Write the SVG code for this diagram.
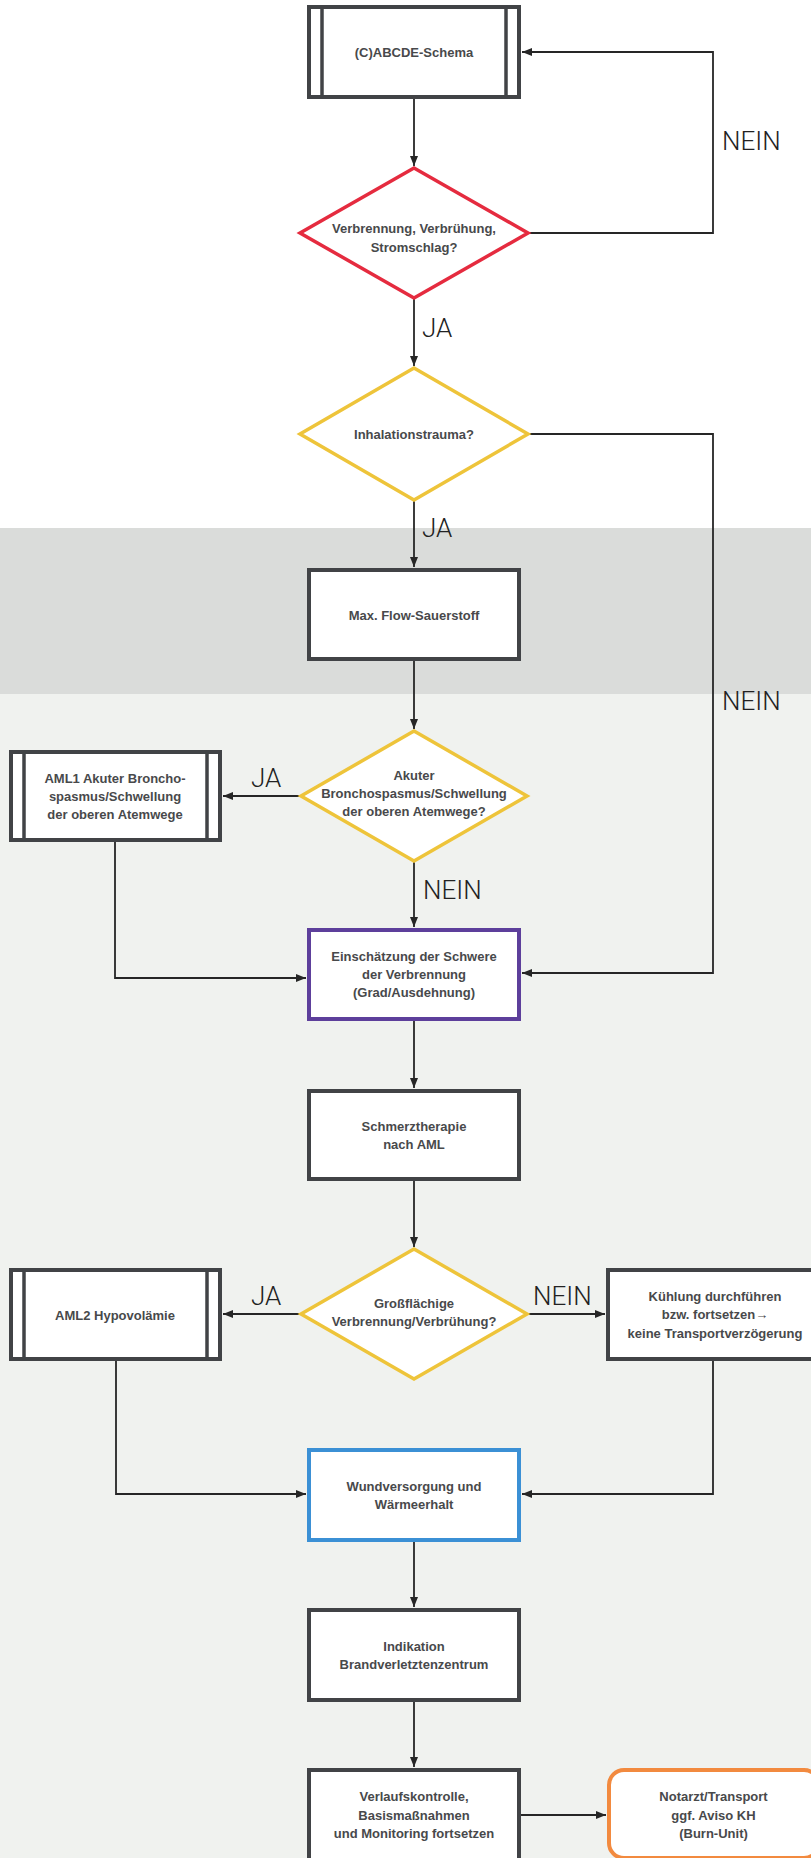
<svg xmlns="http://www.w3.org/2000/svg" width="811" height="1858" viewBox="0 0 811 1858">
<defs>
<marker id="arr" viewBox="0 0 10 8" refX="10" refY="4" markerWidth="10" markerHeight="8" markerUnits="userSpaceOnUse" orient="auto">
<path d="M0,0 L10,4 L0,8 Z" fill="#262626"/>
</marker>
<style>
.bg{stroke:none}
.box{fill:#fff;stroke:#414346;stroke-width:4}
.inner{stroke:#414346;stroke-width:3.5}
.red{fill:#fff;stroke:#e52b3f;stroke-width:3.5}
.yel{fill:#fff;stroke:#eec43a;stroke-width:3.5}
.pur{fill:#fff;stroke:#5d3f9b;stroke-width:4}
.blu{fill:#fff;stroke:#3b90d5;stroke-width:4}
.ora{fill:#fff;stroke:#f28a3f;stroke-width:4}
.t{font-family:"Liberation Sans",Arial,sans-serif;font-weight:bold;font-size:13px;fill:#48494b;text-anchor:middle}
.lab{font-family:Roboto,"Liberation Sans",sans-serif;font-weight:300;font-size:26px;fill:#222}
.c{fill:none;stroke:#262626;stroke-width:1.8;marker-end:url(#arr)}
</style>
</defs>
<rect class="bg" x="0" y="0" width="811" height="528" fill="#ffffff"/>
<rect class="bg" x="0" y="528" width="811" height="166" fill="#dadcda"/>
<rect class="bg" x="0" y="694" width="811" height="1164" fill="#f0f2ef"/>

<g id="connectors">
<path class="c" d="M414,99 V166"/>
<path class="c" d="M528,233 H713 V52 H522"/>
<path class="c" d="M414,298 V366"/>
<path class="c" d="M528,434 H713 V973 H522"/>
<path class="c" d="M414,500 V567"/>
<path class="c" d="M414,661 V729"/>
<path class="c" d="M301,796 H223"/>
<path class="c" d="M115,842 V978 H306"/>
<path class="c" d="M414,861 V927"/>
<path class="c" d="M414,1021 V1088"/>
<path class="c" d="M414,1181 V1247"/>
<path class="c" d="M301,1314 H223"/>
<path class="c" d="M528,1314 H605"/>
<path class="c" d="M116,1361 V1494 H306"/>
<path class="c" d="M713,1361 V1494 H522"/>
<path class="c" d="M414,1542 V1607"/>
<path class="c" d="M414,1702 V1767"/>
<path class="c" d="M521,1815 H606"/>
<text class="lab" x="722" y="150">NEIN</text>
<text class="lab" x="422" y="337">JA</text>
<text class="lab" x="722" y="710">NEIN</text>
<text class="lab" x="422" y="537">JA</text>
<text class="lab" x="251" y="787">JA</text>
<text class="lab" x="423" y="899">NEIN</text>
<text class="lab" x="251" y="1305">JA</text>
<text class="lab" x="533" y="1305">NEIN</text>
</g>

<g id="n-abcde">
<rect class="box" x="309" y="7" width="210" height="90"/>
<line class="inner" x1="322" y1="7" x2="322" y2="97"/>
<line class="inner" x1="506" y1="7" x2="506" y2="97"/>
<text class="t" x="414" y="56.5">(C)ABCDE-Schema</text>
</g>

<g id="n-verbrennung">
<polygon class="red" points="414,168 528,233 414,298 300,233"/>
<text class="t" x="414" y="232.5">Verbrennung, Verbrühung,</text>
<text class="t" x="414" y="251.5">Stromschlag?</text>
</g>

<g id="n-inhalation">
<polygon class="yel" points="414,368 528,434 414,500 300,434"/>
<text class="t" x="414" y="438.5">Inhalationstrauma?</text>
</g>

<g id="n-sauerstoff">
<rect class="box" x="309" y="570" width="210" height="89"/>
<text class="t" x="414" y="619.5">Max. Flow-Sauerstoff</text>
</g>

<g id="n-bronchospasmus">
<polygon class="yel" points="414,731 527,796 414,861 301,796"/>
<text class="t" x="414" y="779.5">Akuter</text>
<text class="t" x="414" y="797.5">Bronchospasmus/Schwellung</text>
<text class="t" x="414" y="815.5">der oberen Atemwege?</text>
</g>

<g id="n-aml1">
<rect class="box" x="11" y="752" width="209" height="88"/>
<line class="inner" x1="24" y1="752" x2="24" y2="840"/>
<line class="inner" x1="207" y1="752" x2="207" y2="840"/>
<text class="t" x="115" y="782.5">AML1 Akuter Broncho-</text>
<text class="t" x="115" y="801">spasmus/Schwellung</text>
<text class="t" x="115" y="818.5">der oberen Atemwege</text>
</g>

<g id="n-einschaetzung">
<rect class="pur" x="309" y="930" width="210" height="89"/>
<text class="t" x="414" y="960.5">Einschätzung der Schwere</text>
<text class="t" x="414" y="978.5">der Verbrennung</text>
<text class="t" x="414" y="996.5">(Grad/Ausdehnung)</text>
</g>

<g id="n-schmerz">
<rect class="box" x="309" y="1091" width="210" height="88"/>
<text class="t" x="414" y="1130.5">Schmerztherapie</text>
<text class="t" x="414" y="1148.5">nach AML</text>
</g>

<g id="n-grossflaechig">
<polygon class="yel" points="414,1249 527,1314 414,1379 301,1314"/>
<text class="t" x="414" y="1307.5">Großflächige</text>
<text class="t" x="414" y="1325.5">Verbrennung/Verbrühung?</text>
</g>

<g id="n-aml2">
<rect class="box" x="11" y="1270" width="209" height="89"/>
<line class="inner" x1="24" y1="1270" x2="24" y2="1359"/>
<line class="inner" x1="207" y1="1270" x2="207" y2="1359"/>
<text class="t" x="115" y="1320">AML2 Hypovolämie</text>
</g>

<g id="n-kuehlung">
<rect class="box" x="608" y="1270" width="214" height="89"/>
<text class="t" x="715" y="1300.5">Kühlung durchführen</text>
<text class="t" x="715" y="1319">bzw. fortsetzen→</text>
<text class="t" x="715" y="1337.5">keine Transportverzögerung</text>
</g>

<g id="n-wund">
<rect class="blu" x="309" y="1450" width="210" height="90"/>
<text class="t" x="414" y="1490.5">Wundversorgung und</text>
<text class="t" x="414" y="1508.5">Wärmeerhalt</text>
</g>

<g id="n-indikation">
<rect class="box" x="309" y="1610" width="210" height="90"/>
<text class="t" x="414" y="1650.5">Indikation</text>
<text class="t" x="414" y="1668.5">Brandverletztenzentrum</text>
</g>

<g id="n-verlauf">
<rect class="box" x="309" y="1770" width="210" height="90"/>
<text class="t" x="414" y="1801">Verlaufskontrolle,</text>
<text class="t" x="414" y="1819.5">Basismaßnahmen</text>
<text class="t" x="414" y="1837.5">und Monitoring fortsetzen</text>
</g>

<g id="n-notarzt">
<rect class="ora" x="609" y="1770" width="210" height="88" rx="15" ry="15"/>
<text class="t" x="713.5" y="1801">Notarzt/Transport</text>
<text class="t" x="713.5" y="1819.5">ggf. Aviso KH</text>
<text class="t" x="713.5" y="1837.5">(Burn-Unit)</text>
</g>
</svg>
